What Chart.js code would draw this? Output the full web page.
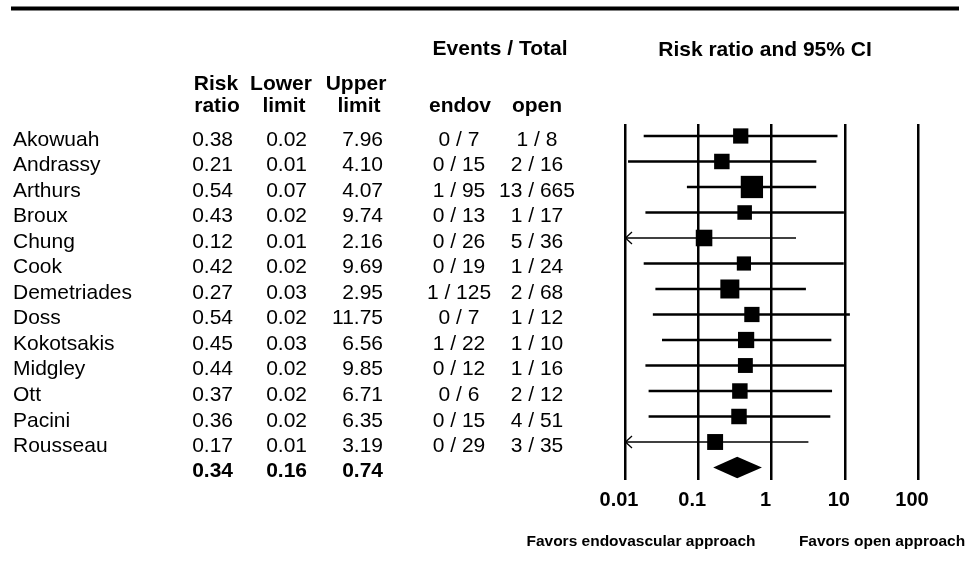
<!DOCTYPE html>
<html>
<head>
<meta charset="utf-8">
<script src="https://cdn.jsdelivr.net/npm/chart.js@4.4.0/dist/chart.umd.min.js"></script>
<style>
html,body{margin:0;padding:0;background:#fff;}
#wrap{position:relative;width:971px;height:575px;}
</style>
</head>
<body>
<div id="wrap"><canvas id="c"></canvas></div>
<script>
// ---- data ----
const studies = ['Akowuah','Andrassy','Arthurs','Broux','Chung','Cook','Demetriades','Doss','Kokotsakis','Midgley','Ott','Pacini','Rousseau'];
const riskRatio  = [0.38, 0.21, 0.54, 0.43, 0.12, 0.42, 0.27, 0.54, 0.45, 0.44, 0.37, 0.36, 0.17];
const lowerLimit = [0.018, 0.011, 0.07, 0.019, 0.006, 0.018, 0.026, 0.024, 0.032, 0.019, 0.021, 0.021, 0.008];
const upperLimit = [7.96, 4.10, 4.07, 9.74, 2.16, 9.69, 2.95, 11.75, 6.56, 9.85, 6.71, 6.35, 3.19];
const endovEvents = [0, 0, 1, 0, 0, 0, 1, 0, 1, 0, 0, 0, 0];
const endovTotal  = [7, 15, 95, 13, 26, 19, 125, 7, 22, 12, 6, 15, 29];
const openEvents  = [1, 2, 13, 1, 5, 1, 2, 1, 1, 1, 2, 4, 3];
const openTotal   = [8, 16, 665, 17, 36, 24, 68, 12, 10, 16, 12, 51, 35];
const relativeWeight = [6.7, 6.9, 14.3, 6.1, 7.9, 5.8, 10.4, 6.7, 7.6, 6.4, 6.9, 6.9, 7.3];
const pooledRatio = 0.34;
const pooledLower = 0.16;
const pooledUpper = 0.74;
const tickValues = [0.01, 0.1, 1, 10, 100];
const tickLabels = ['0.01', '0.1', '1', '10', '100'];

// ---- build ----
const FONT = '"Liberation Sans", Arial, Helvetica, sans-serif';
const summaryRow = studies.length;

const datasets = [];
datasets.push({
  type: 'scatter',
  data: riskRatio.map((v, i) => ({x: v, y: i})),
  pointStyle: 'rect',
  backgroundColor: '#000',
  borderWidth: 0,
  pointRadius: (ctx) => Math.sqrt(relativeWeight[ctx.dataIndex] * 34.7) / (2 * Math.SQRT1_2),
  pointHoverRadius: (ctx) => Math.sqrt(relativeWeight[ctx.dataIndex] * 34.7) / (2 * Math.SQRT1_2)
});
studies.forEach((s, i) => {
  datasets.push({
    type: 'scatter',
    showLine: true,
    data: [{x: lowerLimit[i], y: i}, {x: upperLimit[i], y: i}],
    borderColor: '#000',
    borderWidth: lowerLimit[i] < tickValues[0] ? 1.6 : 2.3,
    pointRadius: 0,
    pointHoverRadius: 0
  });
});

const tablePlugin = {
  id: 'tablePlugin',
  afterDatasetsDraw(chart) {
    const {ctx, scales: {x, y}} = chart;
    ctx.save();
    // pooled diamond
    const yc = y.getPixelForValue(summaryRow);
    const yt = y.getPixelForValue(summaryRow - 0.42);
    const yb = y.getPixelForValue(summaryRow + 0.42);
    ctx.fillStyle = '#000';
    ctx.beginPath();
    ctx.moveTo(x.getPixelForValue(pooledLower), yc);
    ctx.lineTo(x.getPixelForValue(pooledRatio), yt);
    ctx.lineTo(x.getPixelForValue(pooledUpper), yc);
    ctx.lineTo(x.getPixelForValue(pooledRatio), yb);
    ctx.closePath();
    ctx.fill();
    // arrows for truncated intervals
    ctx.strokeStyle = '#000';
    ctx.lineWidth = 1.3;
    lowerLimit.forEach((lo, i) => {
      if (lo < x.min) {
        const x0 = x.getPixelForValue(x.min);
        const py = y.getPixelForValue(i);
        ctx.beginPath();
        ctx.moveTo(x0 + 7, py - 6);
        ctx.lineTo(x0 + 0.5, py);
        ctx.lineTo(x0 + 7, py + 6);
        ctx.stroke();
      }
    });
    ctx.restore();
  },
  afterDraw(chart) {
    const {ctx, scales: {y}} = chart;
    ctx.save();
    ctx.fillStyle = '#000';
    // top rule
    ctx.fillRect(11, 6.5, 948, 4);
    // headers
    ctx.font = 'bold 21px ' + FONT;
    ctx.textAlign = 'center';
    ctx.textBaseline = 'alphabetic';
    ctx.fillText('Events / Total', 500, 55);
    ctx.fillText('Risk ratio and 95% CI', 765, 56);
    ctx.fillText('Risk', 216, 90);
    ctx.fillText('Lower', 281, 90);
    ctx.fillText('Upper', 356, 90);
    ctx.fillText('ratio', 217, 112);
    ctx.fillText('limit', 284, 112);
    ctx.fillText('limit', 359, 112);
    ctx.fillText('endov', 460, 112);
    ctx.fillText('open', 537, 112);
    // rows
    ctx.font = '21px ' + FONT;
    studies.forEach((s, i) => {
      const by = y.getPixelForValue(i) + 10;
      ctx.textAlign = 'left';
      ctx.fillText(s, 13, by);
      ctx.textAlign = 'right';
      ctx.fillText(riskRatio[i].toFixed(2), 233, by);
      ctx.fillText(lowerLimit[i].toFixed(2), 307, by);
      ctx.fillText(upperLimit[i].toFixed(2), 383, by);
      ctx.textAlign = 'center';
      ctx.fillText(endovEvents[i] + ' / ' + endovTotal[i], 459, by);
      ctx.fillText(openEvents[i] + ' / ' + openTotal[i], 537, by);
    });
    // summary row
    ctx.font = 'bold 21px ' + FONT;
    ctx.textAlign = 'right';
    const sy = y.getPixelForValue(summaryRow) + 9;
    ctx.fillText(pooledRatio.toFixed(2), 233, sy);
    ctx.fillText(pooledLower.toFixed(2), 307, sy);
    ctx.fillText(pooledUpper.toFixed(2), 383, sy);
    // footer
    ctx.font = 'bold 15.5px ' + FONT;
    ctx.textAlign = 'center';
    ctx.fillText('Favors endovascular approach', 641, 546);
    ctx.fillText('Favors open approach', 882, 546);
    ctx.restore();
  }
};

new Chart(document.getElementById('c'), {
  type: 'scatter',
  data: {datasets},
  options: {
    responsive: true,
    maintainAspectRatio: false,
    animation: false,
    events: [],
    layout: {padding: {left: 625, right: 53, top: 124, bottom: 55}},
    plugins: {legend: {display: false}, tooltip: {enabled: false}},
    scales: {
      x: {
        type: 'logarithmic',
        min: 0.01,
        max: 100,
        afterBuildTicks: (scale) => { scale.ticks = tickValues.map(v => ({value: v})); },
        ticks: {
          callback: (v, i) => tickLabels[i],
          font: {family: FONT, size: 20, weight: 'bold'},
          color: '#000',
          padding: 8,
          labelOffset: -6,
          maxRotation: 0,
          autoSkip: false
        },
        grid: {color: '#000', lineWidth: 2.5, drawTicks: false},
        border: {display: false}
      },
      y: {
        type: 'linear',
        reverse: true,
        min: -0.47,
        max: 13.49,
        display: false
      }
    }
  },
  plugins: [tablePlugin]
});
</script>
</body>
</html>
